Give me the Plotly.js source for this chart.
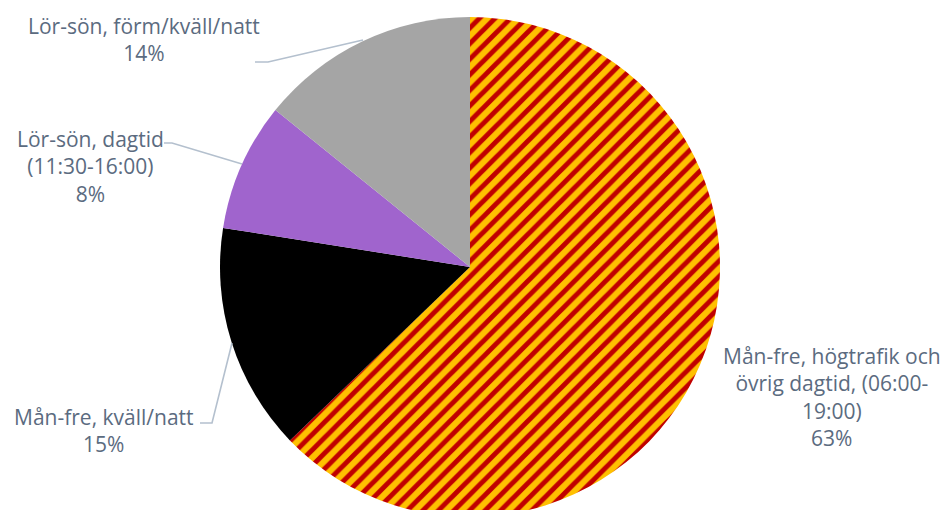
<!DOCTYPE html>
<html>
<head>
<meta charset="utf-8">
<script src="https://cdn.plot.ly/plotly-3.0.1.min.js"></script>
<style>
html,body{margin:0;padding:0;overflow:hidden;background:#fff;}
#chart{width:944px;height:534px;}
</style>
</head>
<body>
<div id="chart"></div>
<script>
// Data
const categories = [
  "Mån-fre, högtrafik och<br>övrig dagtid, (06:00-<br>19:00)",
  "Mån-fre, kväll/natt",
  "Lör-sön, dagtid<br>(11:30-16:00)",
  "Lör-sön, förm/kväll/natt"
];
const values = [62.8, 14.7, 8.3, 14.2];
const percentLabels = ["63%", "15%", "8%", "14%"];

// Layout helpers (pixel -> paper)
const W = 944, H = 534;
const px = x => x / W;
const py = y => 1 - y / H;

const colors = ["#FFC000", "#000000", "#A064CD", "#A5A5A5"];
const patternShapes = ["/", "", "", ""];
const patternFg = ["#C00000", "#000000", "#A064CD", "#A5A5A5"];

const trace = {
  type: "pie",
  values: values,
  labels: categories,
  sort: false,
  direction: "clockwise",
  rotation: 0,
  textinfo: "none",
  hoverinfo: "none",
  showlegend: false,
  domain: {x: [px(220), px(720)], y: [py(517), py(17)]},
  marker: {
    colors: colors,
    line: {width: 0},
    pattern: {
      shape: patternShapes,
      fgcolor: patternFg,
      bgcolor: colors,
      size: 11,
      solidity: 0.45,
      fillmode: "replace"
    }
  }
};

const labelPos = [
  {x: 832, y: 397},
  {x: 104, y: 430},
  {x: 90, y: 166},
  {x: 144, y: 40}
];

const textColor = "#5B6B80";
const annotations = categories.map((c, i) => ({
  xref: "paper", yref: "paper",
  x: px(labelPos[i].x), y: py(labelPos[i].y),
  xanchor: "center", yanchor: "middle",
  text: c + "<br>" + percentLabels[i],
  showarrow: false,
  align: "center",
  font: {family: "Open Sans, sans-serif", size: 21, color: textColor}
}));

const leaderColor = "#B4C0CE";
function poly(points) {
  let d = "M" + points.map(p => px(p[0]) + "," + py(p[1])).join(" L");
  return {type: "path", xref: "paper", yref: "paper", path: d,
          line: {color: leaderColor, width: 1.6}};
}
const shapes = [
  poly([[255, 62], [268, 62], [363, 40]]),
  poly([[164, 143], [172, 143], [242, 164]]),
  poly([[200, 423], [212, 423], [232, 343]])
];

const layout = {
  width: W, height: H,
  margin: {l: 0, r: 0, t: 0, b: 0},
  paper_bgcolor: "#ffffff",
  annotations: annotations,
  shapes: shapes
};

Plotly.newPlot("chart", [trace], layout, {staticPlot: true, displayModeBar: false});
</script>
</body>
</html>
